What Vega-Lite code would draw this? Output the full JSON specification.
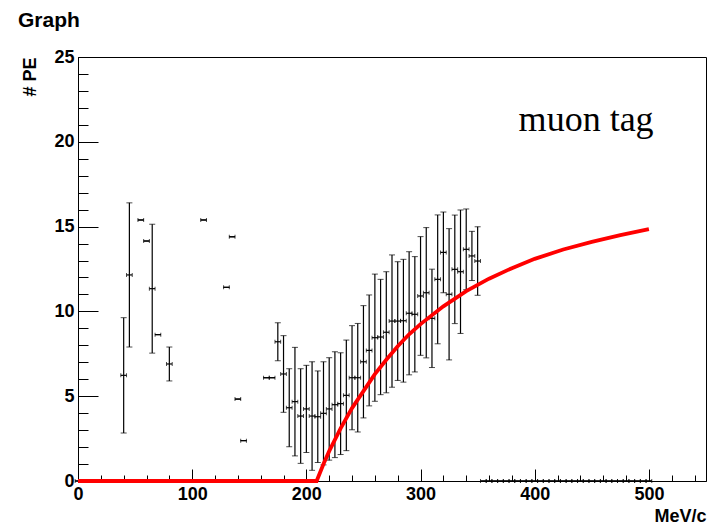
{
  "$schema": "https://vega.github.io/schema/vega-lite/v6.json",
  "width": 628,
  "height": 424,
  "autosize": {"type": "none"},
  "padding": {"left": 78, "top": 57, "right": 2, "bottom": 47},
  "background": "white",
  "title": {"text": "Graph", "anchor": "start", "frame": "group", "dx": -60, "offset": 17, "font": "Liberation Sans", "fontWeight": "bold", "fontSize": 21, "color": "black"},
  "datasets": {
    "pts": [
      {"p":0,"pe":0,"ey":0,"ex":2.5},{"p":5,"pe":0,"ey":0,"ex":2.5},{"p":10,"pe":0,"ey":0,"ex":2.5},{"p":15,"pe":0,"ey":0,"ex":2.5},
      {"p":20,"pe":0,"ey":0,"ex":2.5},{"p":25,"pe":0,"ey":0,"ex":2.5},{"p":30,"pe":0,"ey":0,"ex":2.5},{"p":35,"pe":0,"ey":0,"ex":2.5},
      {"p":40,"pe":6.23,"ey":3.4,"ex":2.5},{"p":45,"pe":12.15,"ey":4.25,"ex":2.5},{"p":50,"pe":0,"ey":0,"ex":2.5},
      {"p":55,"pe":15.39,"ey":0,"ex":2.5},{"p":60,"pe":14.15,"ey":0,"ex":2.5},{"p":65,"pe":11.34,"ey":3.8,"ex":2.5},
      {"p":70,"pe":8.63,"ey":0,"ex":2.5},{"p":75,"pe":0,"ey":0,"ex":2.5},{"p":80,"pe":6.9,"ey":1.0,"ex":2.5},
      {"p":85,"pe":0,"ey":0,"ex":2.5},{"p":90,"pe":0,"ey":0,"ex":2.5},{"p":95,"pe":0,"ey":0,"ex":2.5},{"p":100,"pe":0,"ey":0,"ex":2.5},
      {"p":105,"pe":0,"ey":0,"ex":2.5},{"p":110,"pe":15.39,"ey":0,"ex":2.5},{"p":115,"pe":0,"ey":0,"ex":2.5},{"p":120,"pe":0,"ey":0,"ex":2.5},
      {"p":125,"pe":0,"ey":0,"ex":2.5},{"p":130,"pe":11.42,"ey":0,"ex":2.5},{"p":135,"pe":14.4,"ey":0,"ex":2.5},
      {"p":140,"pe":4.83,"ey":0,"ex":2.5},{"p":145,"pe":2.38,"ey":0,"ex":2.5},{"p":150,"pe":0,"ey":0,"ex":2.5},
      {"p":155,"pe":0,"ey":0,"ex":2.5},{"p":160,"pe":0,"ey":0,"ex":2.5},{"p":165,"pe":6.09,"ey":0,"ex":2.5},
      {"p":170,"pe":6.09,"ey":0,"ex":2.5},{"p":175,"pe":8.21,"ey":1.12,"ex":2.5},{"p":180,"pe":6.31,"ey":2.26,"ex":2.5},
      {"p":185,"pe":4.32,"ey":2.3,"ex":2.5},{"p":190,"pe":4.68,"ey":3.2,"ex":2.5},{"p":195,"pe":3.83,"ey":2.79,"ex":2.5},
      {"p":200,"pe":4.25,"ey":2.57,"ex":2.5},{"p":205,"pe":3.83,"ey":3.2,"ex":2.5},{"p":210,"pe":3.79,"ey":2.7,"ex":2.5},
      {"p":215,"pe":3.99,"ey":3.04,"ex":2.5},{"p":220,"pe":4.25,"ey":3.02,"ex":2.5},{"p":225,"pe":4.5,"ey":3.12,"ex":2.5},
      {"p":230,"pe":4.56,"ey":3.0,"ex":2.5},{"p":235,"pe":5.05,"ey":3.26,"ex":2.5},{"p":240,"pe":6.09,"ey":3.07,"ex":2.5},
      {"p":245,"pe":6.09,"ey":3.2,"ex":2.5},{"p":250,"pe":7.03,"ey":3.31,"ex":2.5},{"p":255,"pe":7.7,"ey":3.27,"ex":2.5},
      {"p":260,"pe":8.45,"ey":3.75,"ex":2.5},{"p":265,"pe":8.49,"ey":3.4,"ex":2.5},{"p":270,"pe":8.77,"ey":3.57,"ex":2.5},
      {"p":275,"pe":9.43,"ey":3.9,"ex":2.5},{"p":280,"pe":9.43,"ey":3.5,"ex":2.5},{"p":285,"pe":9.45,"ey":3.62,"ex":2.5},
      {"p":290,"pe":9.89,"ey":3.63,"ex":2.5},{"p":295,"pe":9.83,"ey":3.4,"ex":2.5},{"p":300,"pe":10.91,"ey":3.5,"ex":2.5},
      {"p":305,"pe":11.1,"ey":3.84,"ex":2.5},{"p":310,"pe":9.59,"ey":2.9,"ex":2.5},{"p":315,"pe":11.89,"ey":3.8,"ex":2.5},
      {"p":320,"pe":13.48,"ey":2.38,"ex":2.5},{"p":325,"pe":11.01,"ey":3.87,"ex":2.5},{"p":330,"pe":12.48,"ey":3.2,"ex":2.5},
      {"p":335,"pe":12.34,"ey":3.64,"ex":2.5},{"p":340,"pe":13.66,"ey":2.38,"ex":2.5},{"p":345,"pe":13.27,"ey":1.45,"ex":2.5},
      {"p":350,"pe":12.97,"ey":2.02,"ex":2.5},
      {"p":355,"pe":0,"ey":0,"ex":2.5},{"p":360,"pe":0,"ey":0,"ex":2.5},{"p":365,"pe":0,"ey":0,"ex":2.5},{"p":370,"pe":0,"ey":0,"ex":2.5},
      {"p":375,"pe":0,"ey":0,"ex":2.5},{"p":380,"pe":0,"ey":0,"ex":2.5},{"p":385,"pe":0,"ey":0,"ex":2.5},{"p":390,"pe":0,"ey":0,"ex":2.5},
      {"p":395,"pe":0,"ey":0,"ex":2.5},{"p":400,"pe":0,"ey":0,"ex":2.5},{"p":405,"pe":0,"ey":0,"ex":2.5},{"p":410,"pe":0,"ey":0,"ex":2.5},
      {"p":415,"pe":0,"ey":0,"ex":2.5},{"p":420,"pe":0,"ey":0,"ex":2.5},{"p":425,"pe":0,"ey":0,"ex":2.5},{"p":430,"pe":0,"ey":0,"ex":2.5},
      {"p":435,"pe":0,"ey":0,"ex":2.5},{"p":440,"pe":0,"ey":0,"ex":2.5},{"p":445,"pe":0,"ey":0,"ex":2.5},{"p":450,"pe":0,"ey":0,"ex":2.5},
      {"p":455,"pe":0,"ey":0,"ex":2.5},{"p":460,"pe":0,"ey":0,"ex":2.5},{"p":465,"pe":0,"ey":0,"ex":2.5},{"p":470,"pe":0,"ey":0,"ex":2.5},
      {"p":475,"pe":0,"ey":0,"ex":2.5},{"p":480,"pe":0,"ey":0,"ex":2.5},{"p":485,"pe":0,"ey":0,"ex":2.5},{"p":490,"pe":0,"ey":0,"ex":2.5},
      {"p":495,"pe":0,"ey":0,"ex":2.5},{"p":500,"pe":0,"ey":0,"ex":2.5}
    ],
    "fit": [
      {"p":0,"f":0},{"p":209,"f":0},{"p":215,"f":1.0},{"p":220,"f":1.76},{"p":230,"f":3.1},{"p":240,"f":4.3},
      {"p":250,"f":5.3},{"p":260,"f":6.3},{"p":270,"f":7.15},{"p":280,"f":7.95},{"p":290,"f":8.65},{"p":300,"f":9.25},
      {"p":320,"f":10.3},{"p":340,"f":11.2},{"p":360,"f":11.93},{"p":380,"f":12.55},{"p":400,"f":13.1},
      {"p":425,"f":13.65},{"p":450,"f":14.1},{"p":475,"f":14.5},{"p":500,"f":14.85}
    ],
    "note": [{"label": "muon tag", "p": 445, "pe": 21.3}]
  },
  "layer": [
    {
      "data": {"name": "pts"},
      "mark": {"type": "errorbar", "color": "black", "ticks": {"size": 6, "color": "black"}, "rule": {"strokeWidth": 1.2, "color": "black"}},
      "encoding": {
        "x": {"field": "p", "type": "quantitative", "title": "MeV/c", "scale": {"domain": [0, 550], "nice": false},
          "axis": {"values": [0,20,40,60,80,100,120,140,160,180,200,220,240,260,280,300,320,340,360,380,400,420,440,460,480,500,520,540],
            "tickCount": 100, "format": "d",
            "labelExpr": "datum.value % 100 === 0 ? datum.label : ''",
            "labelOverlap": false,
            "tickSize": {"condition": {"test": "datum.value % 100 === 0", "value": -12}, "value": -6},
            "labelPadding": 16, "labelFlush": false,
            "titleAnchor": "end", "titleAlign": "right", "titleX": 628, "titleY": 44, "titleBaseline": "bottom"}},
        "y": {"field": "pe", "type": "quantitative", "title": "# PE", "scale": {"domain": [0, 25], "nice": false},
          "axis": {"values": [0,1,2,3,4,5,6,7,8,9,10,11,12,13,14,15,16,17,18,19,20,21,22,23,24,25],
            "tickCount": 100, "format": "d",
            "labelExpr": "datum.value % 5 === 0 ? datum.label : ''",
            "labelOverlap": false,
            "tickSize": {"condition": {"test": "datum.value % 5 === 0", "value": -20}, "value": -10},
            "labelPadding": 24, "labelFlush": false,
            "titleAnchor": "end", "titleAlign": "right", "titleAngle": -90, "titleX": -48, "titleY": 0, "titleBaseline": "middle"}},
        "yError": {"field": "ey"}
      }
    },
    {
      "data": {"name": "pts"},
      "mark": {"type": "errorbar", "color": "black", "ticks": {"size": 4, "color": "black"}, "rule": {"strokeWidth": 1.2, "color": "black"}},
      "encoding": {
        "x": {"field": "p", "type": "quantitative", "title": "MeV/c"},
        "xError": {"field": "ex"},
        "y": {"field": "pe", "type": "quantitative", "title": "# PE"}
      }
    },
    {
      "data": {"name": "fit"},
      "mark": {"type": "line", "color": "#ff0000", "strokeWidth": 3.8},
      "encoding": {
        "x": {"field": "p", "type": "quantitative", "title": "MeV/c"},
        "y": {"field": "f", "type": "quantitative", "title": "# PE"}
      }
    },
    {
      "data": {"name": "note"},
      "mark": {"type": "text", "font": "Liberation Serif", "fontSize": 36, "color": "black", "align": "center", "baseline": "middle"},
      "encoding": {
        "x": {"field": "p", "type": "quantitative", "title": "MeV/c"},
        "y": {"field": "pe", "type": "quantitative", "title": "# PE"},
        "text": {"field": "label"}
      }
    }
  ],
  "config": {
    "view": {"stroke": "black", "strokeWidth": 1},
    "axis": {"labelFont": "Liberation Sans", "labelFontWeight": "bold", "labelFontSize": 18, "labelColor": "black",
      "titleFont": "Liberation Sans", "titleFontWeight": "bold", "titleFontSize": 18, "titleColor": "black",
      "domainColor": "black", "tickColor": "black", "grid": false}
  }
}
